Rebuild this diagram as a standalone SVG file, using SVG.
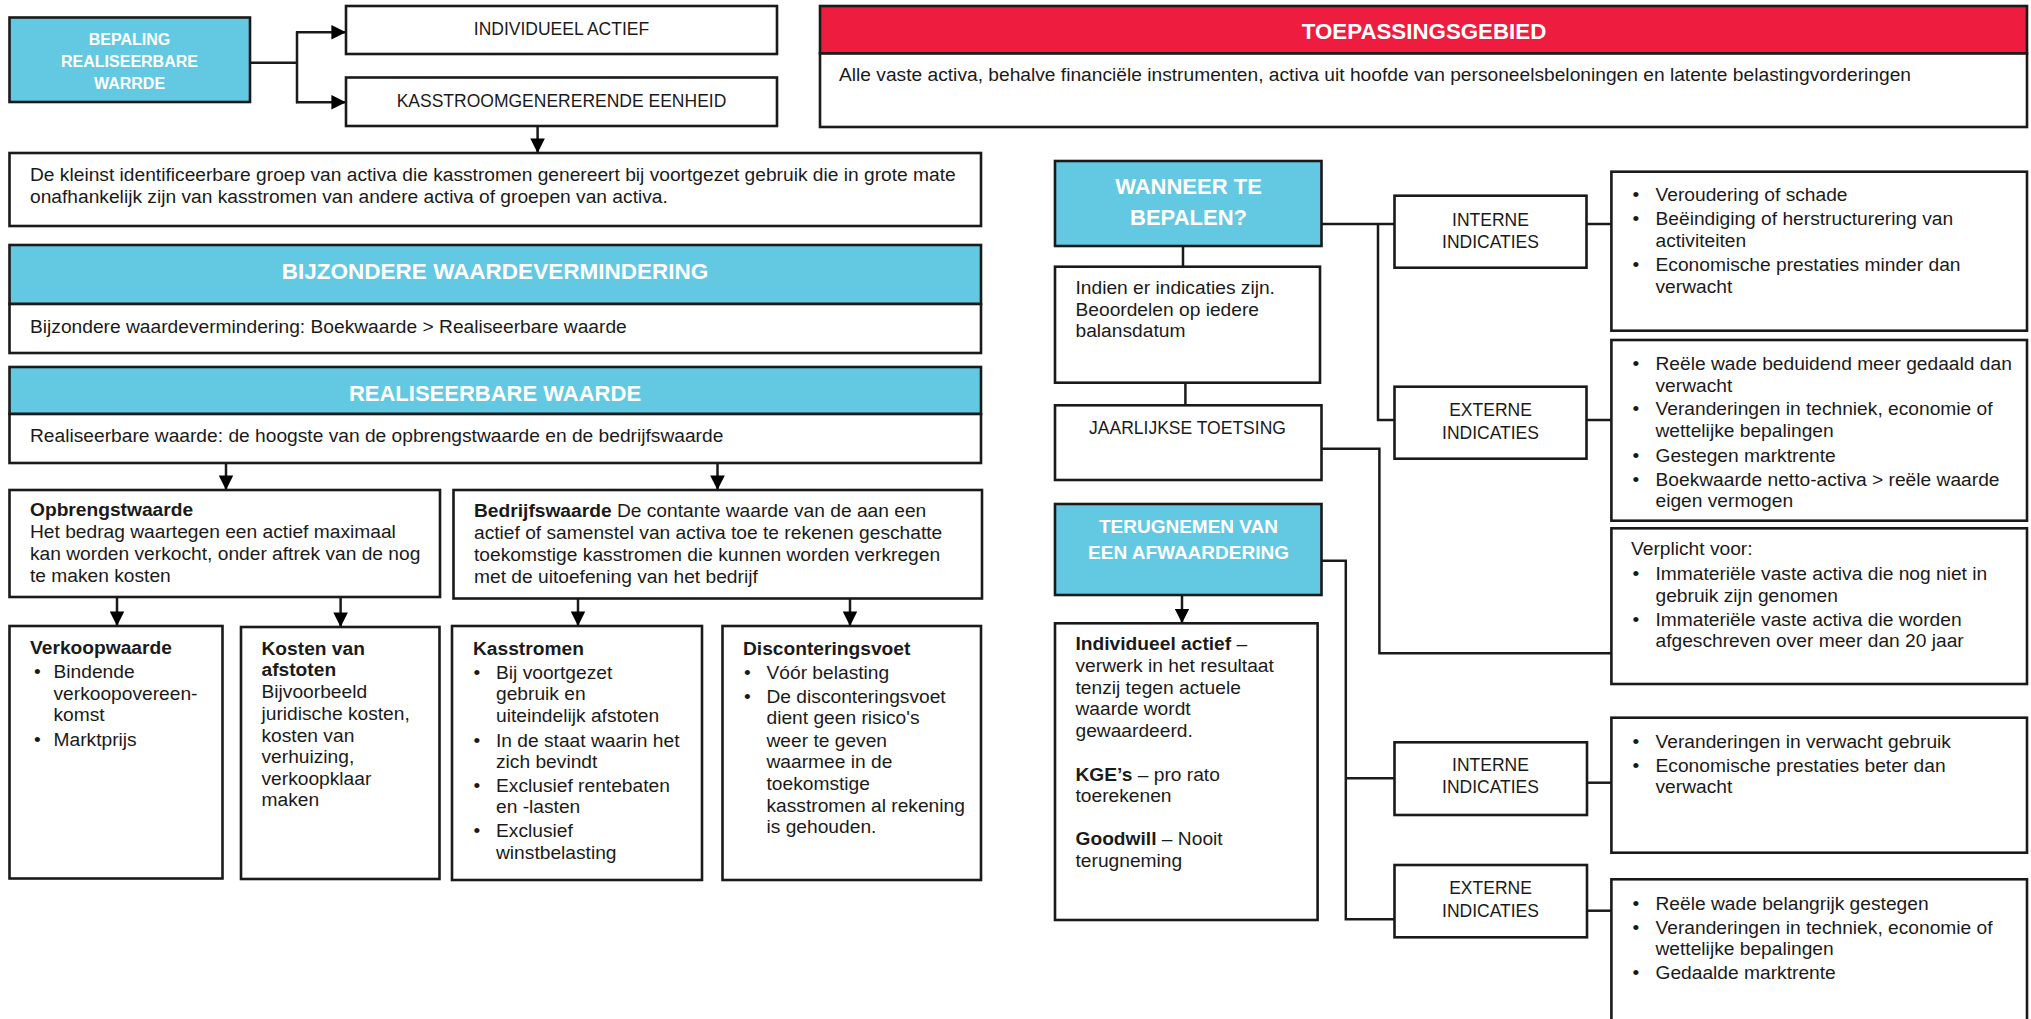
<svg xmlns="http://www.w3.org/2000/svg" width="2031" height="1019" viewBox="0 0 2031 1019">
<style>
.box{fill:#fff;stroke:#1a1a1a;stroke-width:2.6}
.blue{fill:#63C9E3;stroke:#1a1a1a;stroke-width:2.6}
.red{fill:#EE1C3E;stroke:#1a1a1a;stroke-width:2.6}
.t{font-family:"Liberation Sans",Arial,sans-serif;font-size:19.2px;fill:#1a1a1a}
.b{font-weight:bold}
.lab{font-family:"Liberation Sans",Arial,sans-serif;font-size:17.5px;fill:#1a1a1a;text-anchor:middle}
.hw{font-family:"Liberation Sans",Arial,sans-serif;font-weight:bold;fill:#fff;text-anchor:middle}
.con{fill:none;stroke:#1a1a1a;stroke-width:2.5}
</style>
<defs>
<marker id="arr" viewBox="0 0 10 10" refX="10" refY="5" markerUnits="userSpaceOnUse" markerWidth="15" markerHeight="14.6" orient="auto">
<path d="M0,0 L10,5 L0,10 z" fill="#000"/>
</marker>
</defs>
<rect width="2031" height="1019" fill="#fff"/>

<g id="connectors">
<path class="con" d="M250,62.7 H297 M297,31.5 V103.3"/>
<path class="con" d="M296,32.3 H346" marker-end="url(#arr)"/>
<path class="con" d="M296,102.3 H346" marker-end="url(#arr)"/>
<path class="con" d="M537.6,126 V153" marker-end="url(#arr)"/>
<path class="con" d="M226,463 V490" marker-end="url(#arr)"/>
<path class="con" d="M717.5,463 V490" marker-end="url(#arr)"/>
<path class="con" d="M117,597 V626" marker-end="url(#arr)"/>
<path class="con" d="M340.6,597 V627" marker-end="url(#arr)"/>
<path class="con" d="M578,598.5 V626" marker-end="url(#arr)"/>
<path class="con" d="M850,598.5 V626" marker-end="url(#arr)"/>
<path class="con" d="M1183,246 V266.7"/>
<path class="con" d="M1185.4,382.7 V405.3"/>
<path class="con" d="M1321.5,224 H1394.5 M1378,224 V420 H1394.5"/>
<path class="con" d="M1586.5,224 H1611.4"/>
<path class="con" d="M1586.5,420 H1611.4"/>
<path class="con" d="M1321.5,448.7 H1379.4 V653.3 H1611.4"/>
<path class="con" d="M1182,595 V623.3" marker-end="url(#arr)"/>
<path class="con" d="M1321.5,560.7 H1345.8 V919.3 H1394.5 M1345.8,778.3 H1394.5"/>
<path class="con" d="M1587,782.7 H1611.4"/>
<path class="con" d="M1587,910.7 H1611.4"/>
</g>

<g id="bepaling">
<rect class="blue" x="9.5" y="17.5" width="240.5" height="84.5"/>
<text class="hw" font-size="16" x="129.5" y="45">BEPALING</text>
<text class="hw" font-size="16" x="129.5" y="67">REALISEERBARE</text>
<text class="hw" font-size="16" x="129.5" y="89">WARRDE</text>
</g>

<g id="individueel-actief">
<rect class="box" x="346" y="6" width="431" height="48"/>
<text class="lab" x="561.5" y="35">INDIVIDUEEL ACTIEF</text>
</g>

<g id="kge">
<rect class="box" x="346" y="77.5" width="431" height="48.5"/>
<text class="lab" x="561.5" y="107">KASSTROOMGENERERENDE EENHEID</text>
</g>

<g id="kge-def">
<rect class="box" x="9.5" y="153" width="971.5" height="73"/>
<text class="t" x="30" y="181">De kleinst identificeerbare groep van activa die kasstromen genereert bij voortgezet gebruik die in grote mate</text>
<text class="t" x="30" y="203">onafhankelijk zijn van kasstromen van andere activa of groepen van activa.</text>
</g>

<g id="bijzondere">
<rect class="blue" x="9.5" y="245" width="971.5" height="59"/>
<text class="hw" font-size="22.5" x="495" y="278.5">BIJZONDERE WAARDEVERMINDERING</text>
<rect class="box" x="9.5" y="304" width="971.5" height="49"/>
<text class="t" x="30" y="333">Bijzondere waardevermindering: Boekwaarde &gt; Realiseerbare waarde</text>
</g>

<g id="realiseerbare">
<rect class="blue" x="9.5" y="367" width="971.5" height="47"/>
<text class="hw" font-size="22" x="495" y="400.5">REALISEERBARE WAARDE</text>
<rect class="box" x="9.5" y="414" width="971.5" height="49"/>
<text class="t" x="30" y="442">Realiseerbare waarde: de hoogste van de opbrengstwaarde en de bedrijfswaarde</text>
</g>

<g id="opbrengstwaarde">
<rect class="box" x="9.5" y="490" width="430.5" height="107"/>
<text class="t b" x="30" y="516">Opbrengstwaarde</text>
<text class="t" x="30" y="538">Het bedrag waartegen een actief maximaal</text>
<text class="t" x="30" y="560">kan worden verkocht, onder aftrek van de nog</text>
<text class="t" x="30" y="582">te maken kosten</text>
</g>

<g id="bedrijfswaarde">
<rect class="box" x="453.5" y="490" width="528.5" height="108.5"/>
<text class="t" x="474" y="517"><tspan class="b">Bedrijfswaarde</tspan> De contante waarde van de aan een</text>
<text class="t" x="474" y="539">actief of samenstel van activa toe te rekenen geschatte</text>
<text class="t" x="474" y="561">toekomstige kasstromen die kunnen worden verkregen</text>
<text class="t" x="474" y="583">met de uitoefening van het bedrijf</text>
</g>

<g id="verkoopwaarde">
<rect class="box" x="9.5" y="626" width="213" height="252.5"/>
<text class="t b" x="30" y="654">Verkoopwaarde</text>
<text class="t" x="34" y="678">•</text>
<text class="t" x="53.5" y="678">Bindende</text>
<text class="t" x="53.5" y="700">verkoopovereen-</text>
<text class="t" x="53.5" y="721">komst</text>
<text class="t" x="34" y="746">•</text>
<text class="t" x="53.5" y="746">Marktprijs</text>
</g>

<g id="kosten-afstoten">
<rect class="box" x="241" y="627" width="198.5" height="252"/>
<text class="t b" x="261.5" y="655">Kosten van</text>
<text class="t b" x="261.5" y="676">afstoten</text>
<text class="t" x="261.5" y="698">Bijvoorbeeld</text>
<text class="t" x="261.5" y="720">juridische kosten,</text>
<text class="t" x="261.5" y="742">kosten van</text>
<text class="t" x="261.5" y="763">verhuizing,</text>
<text class="t" x="261.5" y="785">verkoopklaar</text>
<text class="t" x="261.5" y="806">maken</text>
</g>

<g id="kasstromen">
<rect class="box" x="452" y="626" width="250" height="254"/>
<text class="t b" x="473" y="655">Kasstromen</text>
<text class="t" x="473.5" y="679">•</text>
<text class="t" x="496" y="679">Bij voortgezet</text>
<text class="t" x="496" y="700">gebruik en</text>
<text class="t" x="496" y="722">uiteindelijk afstoten</text>
<text class="t" x="473.5" y="747">•</text>
<text class="t" x="496" y="747">In de staat waarin het</text>
<text class="t" x="496" y="768">zich bevindt</text>
<text class="t" x="473.5" y="792">•</text>
<text class="t" x="496" y="792">Exclusief rentebaten</text>
<text class="t" x="496" y="813">en -lasten</text>
<text class="t" x="473.5" y="837">•</text>
<text class="t" x="496" y="837">Exclusief</text>
<text class="t" x="496" y="859">winstbelasting</text>
</g>

<g id="disconteringsvoet">
<rect class="box" x="722.5" y="626" width="258.5" height="254"/>
<text class="t b" x="743" y="655">Disconteringsvoet</text>
<text class="t" x="744" y="679">•</text>
<text class="t" x="766.5" y="679">Vóór belasting</text>
<text class="t" x="744" y="703">•</text>
<text class="t" x="766.5" y="703">De disconteringsvoet</text>
<text class="t" x="766.5" y="724">dient geen risico's</text>
<text class="t" x="766.5" y="747">weer te geven</text>
<text class="t" x="766.5" y="768">waarmee in de</text>
<text class="t" x="766.5" y="790">toekomstige</text>
<text class="t" x="766.5" y="812">kasstromen al rekening</text>
<text class="t" x="766.5" y="833">is gehouden.</text>
</g>

<g id="toepassingsgebied">
<rect class="red" x="820" y="6" width="1207" height="47.5"/>
<text class="hw" font-size="22.3" x="1424" y="39">TOEPASSINGSGEBIED</text>
<rect class="box" x="820" y="53.5" width="1207" height="73.5"/>
<text class="t" x="839" y="80.5">Alle vaste activa, behalve financiële instrumenten, activa uit hoofde van personeelsbeloningen en latente belastingvorderingen</text>
</g>

<g id="wanneer">
<rect class="blue" x="1055" y="161" width="266.5" height="85"/>
<text class="hw" font-size="22" x="1188.5" y="194">WANNEER TE</text>
<text class="hw" font-size="22" x="1188.5" y="225">BEPALEN?</text>
</g>

<g id="indien">
<rect class="box" x="1055" y="266.7" width="265" height="116"/>
<text class="t" x="1075.5" y="294">Indien er indicaties zijn.</text>
<text class="t" x="1075.5" y="316">Beoordelen op iedere</text>
<text class="t" x="1075.5" y="337">balansdatum</text>
</g>

<g id="jaarlijkse">
<rect class="box" x="1055" y="405.3" width="266.5" height="74.7"/>
<text class="lab" x="1187.5" y="434">JAARLIJKSE TOETSING</text>
</g>

<g id="terugnemen">
<rect class="blue" x="1055" y="504" width="266.5" height="91"/>
<text class="hw" font-size="19" x="1188.5" y="533">TERUGNEMEN VAN</text>
<text class="hw" font-size="19" x="1188.5" y="559">EEN AFWAARDERING</text>
</g>

<g id="terugnemen-regels">
<rect class="box" x="1055" y="623.3" width="262.6" height="296.7"/>
<text class="t" x="1075.5" y="650"><tspan class="b">Individueel actief</tspan> –</text>
<text class="t" x="1075.5" y="672">verwerk in het resultaat</text>
<text class="t" x="1075.5" y="693.5">tenzij tegen actuele</text>
<text class="t" x="1075.5" y="715">waarde wordt</text>
<text class="t" x="1075.5" y="737">gewaardeerd.</text>
<text class="t" x="1075.5" y="780.5"><tspan class="b">KGE’s</tspan> – pro rato</text>
<text class="t" x="1075.5" y="802">toerekenen</text>
<text class="t" x="1075.5" y="845"><tspan class="b">Goodwill</tspan> – Nooit</text>
<text class="t" x="1075.5" y="867">terugneming</text>
</g>

<g id="interne-1">
<rect class="box" x="1394.5" y="195.7" width="192" height="72"/>
<text class="lab" x="1490.5" y="225.5">INTERNE</text>
<text class="lab" x="1490.5" y="248">INDICATIES</text>
</g>

<g id="externe-1">
<rect class="box" x="1394.5" y="386.7" width="192" height="72"/>
<text class="lab" x="1490.5" y="416">EXTERNE</text>
<text class="lab" x="1490.5" y="438.5">INDICATIES</text>
</g>

<g id="interne-2">
<rect class="box" x="1394.5" y="742.3" width="192.5" height="72.7"/>
<text class="lab" x="1490.5" y="770.5">INTERNE</text>
<text class="lab" x="1490.5" y="793">INDICATIES</text>
</g>

<g id="externe-2">
<rect class="box" x="1394.5" y="865" width="192.5" height="72.3"/>
<text class="lab" x="1490.5" y="894">EXTERNE</text>
<text class="lab" x="1490.5" y="916.5">INDICATIES</text>
</g>

<g id="interne-1-lijst">
<rect class="box" x="1611.4" y="171.7" width="415.6" height="159"/>
<text class="t" x="1632.5" y="201">•</text>
<text class="t" x="1655.5" y="201">Veroudering of schade</text>
<text class="t" x="1632.5" y="225">•</text>
<text class="t" x="1655.5" y="225">Beëindiging of herstructurering van</text>
<text class="t" x="1655.5" y="247">activiteiten</text>
<text class="t" x="1632.5" y="271">•</text>
<text class="t" x="1655.5" y="271">Economische prestaties minder dan</text>
<text class="t" x="1655.5" y="293">verwacht</text>
</g>

<g id="externe-1-lijst">
<rect class="box" x="1611.4" y="340" width="415.6" height="180.7"/>
<text class="t" x="1632.5" y="370">•</text>
<text class="t" x="1655.5" y="370">Reële wade beduidend meer gedaald dan</text>
<text class="t" x="1655.5" y="391.5">verwacht</text>
<text class="t" x="1632.5" y="415">•</text>
<text class="t" x="1655.5" y="415">Veranderingen in techniek, economie of</text>
<text class="t" x="1655.5" y="437">wettelijke bepalingen</text>
<text class="t" x="1632.5" y="462">•</text>
<text class="t" x="1655.5" y="462">Gestegen marktrente</text>
<text class="t" x="1632.5" y="486">•</text>
<text class="t" x="1655.5" y="486">Boekwaarde netto-activa &gt; reële waarde</text>
<text class="t" x="1655.5" y="507">eigen vermogen</text>
</g>

<g id="verplicht">
<rect class="box" x="1611.4" y="528.3" width="415.6" height="155.7"/>
<text class="t" x="1631" y="555">Verplicht voor:</text>
<text class="t" x="1632.5" y="580">•</text>
<text class="t" x="1655.5" y="580">Immateriële vaste activa die nog niet in</text>
<text class="t" x="1655.5" y="601.5">gebruik zijn genomen</text>
<text class="t" x="1632.5" y="626">•</text>
<text class="t" x="1655.5" y="626">Immateriële vaste activa die worden</text>
<text class="t" x="1655.5" y="647">afgeschreven over meer dan 20 jaar</text>
</g>

<g id="interne-2-lijst">
<rect class="box" x="1611.4" y="717.7" width="415.6" height="135"/>
<text class="t" x="1632.5" y="748">•</text>
<text class="t" x="1655.5" y="748">Veranderingen in verwacht gebruik</text>
<text class="t" x="1632.5" y="772">•</text>
<text class="t" x="1655.5" y="772">Economische prestaties beter dan</text>
<text class="t" x="1655.5" y="793">verwacht</text>
</g>

<g id="externe-2-lijst">
<rect class="box" x="1611.4" y="879.3" width="415.6" height="160"/>
<text class="t" x="1632.5" y="909.5">•</text>
<text class="t" x="1655.5" y="909.5">Reële wade belangrijk gestegen</text>
<text class="t" x="1632.5" y="934">•</text>
<text class="t" x="1655.5" y="934">Veranderingen in techniek, economie of</text>
<text class="t" x="1655.5" y="955">wettelijke bepalingen</text>
<text class="t" x="1632.5" y="979">•</text>
<text class="t" x="1655.5" y="979">Gedaalde marktrente</text>
</g>
</svg>
